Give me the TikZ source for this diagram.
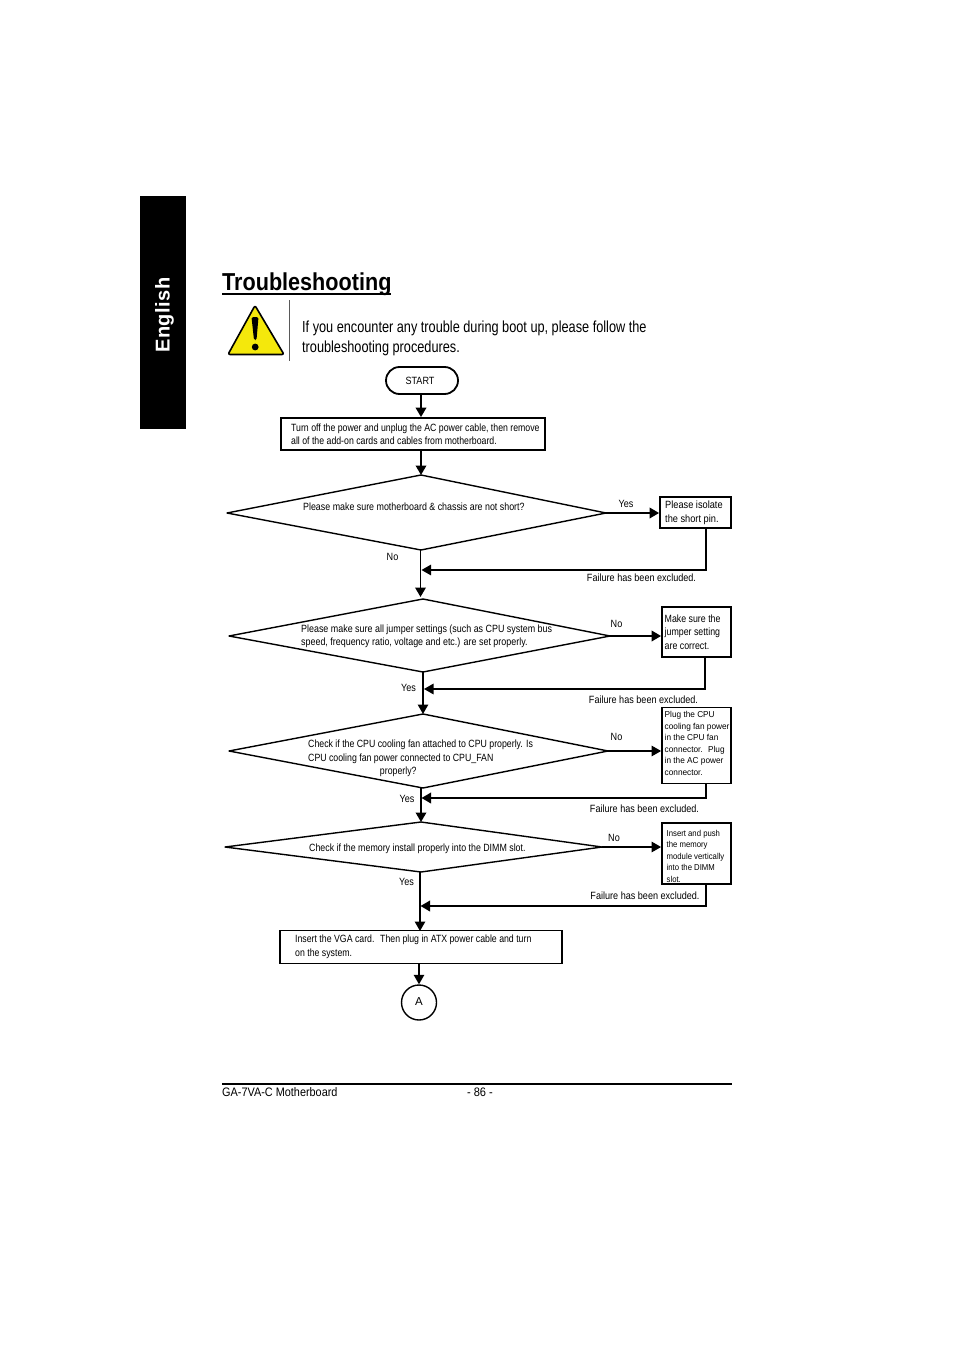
\documentclass[tikz,border=0pt]{standalone}
\usepackage{fontspec}
\setmainfont{Liberation Sans}
\usetikzlibrary{arrows.meta,shapes.misc}
\tikzset{
  thickln/.style={line width=1.9pt,draw=black},
  thinln/.style={line width=1.3pt,draw=black},
  arr/.style={-{Triangle[length=9.5pt,width=10.5pt]}},
  boxn/.style={draw=black,line width=1.8pt,inner sep=0pt,fill=white},
  dia/.style={draw=black,line width=1.4pt,line join=round},
  txt/.style={transform shape,anchor=west,align=left,inner sep=0pt,font=\fontsize{10.5}{13.5}\selectfont},
  lab/.style={transform shape,anchor=center,inner sep=0pt,font=\fontsize{10.5}{13}\selectfont},
  small/.style={transform shape,anchor=west,align=left,inner sep=0pt,font=\fontsize{8.6}{11.6}\selectfont},
}
\begin{document}
\begin{tikzpicture}[x=1pt,y=-1pt]
\useasboundingbox (0,0) rectangle (954,1351);
\fill[white] (0,0) rectangle (954,1351);
% side tab
\node[fill=black,minimum width=46pt,minimum height=233pt,inner sep=0pt] (tab) at (163,312.5) {};
\node[rotate=90,text=white,inner sep=0pt,font=\fontsize{20}{20}\selectfont\bfseries\addfontfeature{LetterSpace=2.5}] (eng) at (164.5,315) {English};
% title
\node[anchor=base west,inner sep=0pt,font=\fontsize{24.5}{26}\selectfont\bfseries,transform shape,xscale=.882] (title) at (222,290.5) {Troubleshooting};
\draw[line width=1.3pt] (222,294) -- (391,294);
% warning
\draw[draw=black,fill=yellow!95!black,line width=1.6pt,line join=round,rounded corners=2pt] (255,305.5) -- (284,354.5) -- (228,354.5) -- cycle;
\fill[black,rounded corners=1.5pt] (251.5,317) -- (258.5,317) -- (256.5,340) -- (254,340) -- cycle;
\fill[black] (255.2,347) circle (3.4pt);
\draw[line width=1pt,draw=black!65] (289,300) -- (289,361);
\node[txt,font=\fontsize{16}{19.5}\selectfont,xscale=.795] (intro) at (302,338.5) {If you encounter any trouble during boot up, please follow the\\troubleshooting procedures.};
% start
\node[draw=black,line width=1.8pt,rounded rectangle,minimum width=72pt,minimum height=27pt,inner sep=0pt] (start) at (422,380.5) {};
\node[lab,xscale=.865] (starttxt) at (420,380.5) {START};
% box 1
\node[boxn,minimum width=264pt,minimum height=32pt] (b1) at (413,434) {};
\node[txt,xscale=.833] (b1t) at (291,434.2) {Turn off the power and unplug the AC power cable, then remove\\all of the add-on cards and cables from motherboard.};
% diamonds
\coordinate (d1t) at (421,475); \coordinate (d1r) at (606,513); \coordinate (d1b) at (421,550); \coordinate (d1l) at (227,513);
\coordinate (d2t) at (423,599); \coordinate (d2r) at (610,636); \coordinate (d2b) at (423,672); \coordinate (d2l) at (229,636);
\coordinate (d3t) at (423,714); \coordinate (d3r) at (608,751); \coordinate (d3b) at (423,788); \coordinate (d3l) at (229,751);
\coordinate (d4t) at (421,822); \coordinate (d4r) at (602,847); \coordinate (d4b) at (421,872); \coordinate (d4l) at (225,847);
\draw[dia] (d1t) -- (d1r) -- (d1b) -- (d1l) -- cycle;
\draw[dia] (d2t) -- (d2r) -- (d2b) -- (d2l) -- cycle;
\draw[dia] (d3t) -- (d3r) -- (d3b) -- (d3l) -- cycle;
\draw[dia] (d4t) -- (d4r) -- (d4b) -- (d4l) -- cycle;
\node[txt,xscale=.845] (d1x) at (303,506.7) {Please make sure motherboard \& chassis are not short?};
\node[txt,xscale=.85] (d2x) at (301,636.2) {Please make sure all jumper settings (such as CPU system bus\\speed, frequency ratio, voltage and etc.) are set properly.};
\node[txt,xscale=.835] (d3x) at (308,758.5) {Check if the CPU cooling fan attached to CPU properly. Is\\CPU cooling fan power connected to CPU\_FAN\\\hspace*{86pt}properly?};
\node[txt,xscale=.841] (d4x) at (309,848.7) {Check if the memory install properly into the DIMM slot.};
% side boxes
\node[boxn,minimum width=71pt,minimum height=31pt] (s1) at (695.5,512.5) {};
\node[txt,xscale=.88] (s1x) at (665,512.7) {Please isolate\\the short pin.};
\node[boxn,minimum width=69pt,minimum height=50pt] (s2) at (696.5,632) {};
\node[txt,xscale=.84] (s2x) at (664.5,632) {Make sure the\\jumper setting\\are correct.};
\node[boxn,minimum width=69pt,minimum height=76pt] (s3) at (696.5,745.5) {};
\node[small,xscale=.96] (s3x) at (664.5,743.5) {Plug the CPU\\cooling fan power\\in the CPU fan\\connector. \ Plug\\in the AC power\\connector.};
\node[boxn,minimum width=69pt,minimum height=61pt] (s4) at (696.5,853.5) {};
\node[small,xscale=.9] (s4x) at (666.5,856.3) {Insert and push\\the memory\\module vertically\\into the DIMM\\slot.};
% bottom box
\node[boxn,line width=1.4pt,minimum width=282pt,minimum height=33pt] (b5) at (421,947) {};
\node[txt,xscale=.834] (b5x) at (295,947) {Insert the VGA card. \ Then plug in ATX power cable and turn\\on the system.};
\node[draw=black,line width=1.4pt,circle,minimum size=35pt,inner sep=0pt] (a) at (419,1002.5) {};
\node[lab,font=\fontsize{11.5}{13}\selectfont] (atxt) at (419,1002) {A};
% junction coordinates
\coordinate (r1) at (706,570); \coordinate (r2) at (705,689); \coordinate (r3) at (706,798); \coordinate (r4) at (706,906);
\coordinate (s1o) at (706,528); \coordinate (s2o) at (705,657); \coordinate (s3o) at (706,783); \coordinate (s4o) at (706,884);
\coordinate (j1) at (421.5,570); \coordinate (j2) at (424,689); \coordinate (j3) at (421.5,798); \coordinate (j4) at (420.5,906);
% connectors
\draw[thickln,arr] (start.south -| d1t) -- (d1t |- b1.north);
\draw[thickln,arr] (d1t |- b1.south) -- (d1t);
\draw[thickln,arr] (d1r) -- (s1.west |- d1r);
\draw[thinln,arr] (s1o) -- (r1) -- (j1);
\draw[thickln,arr] (420.5,550) -- (420.5,597);
\draw[thickln,arr] (d2r) -- (s2.west |- d2r);
\draw[thinln,arr] (s2o) -- (r2) -- (j2);
\draw[thinln,arr] (d2b) -- (d3t);
\draw[thinln,arr] (d3r) -- (s3.west |- d3r);
\draw[thickln,arr] (s3o) -- (r3) -- (j3);
\draw[thickln,arr] (421,788) -- (d4t);
\draw[thinln,arr] (d4r) -- (s4.west |- d4r);
\draw[thickln,arr] (s4o) -- (r4) -- (j4);
\draw[thinln,arr] (420,872) -- (420,931);
\draw[thinln,arr] (419,963.5) -- (a.north);
% labels
\tikzset{every node/.append style={}}
\node[lab,xscale=.865] (l1) at (626,503.5) {Yes};
\node[lab,xscale=.865] (l2) at (392.5,556.5) {No};
\node[lab,xscale=.865] (l3) at (616.5,623.5) {No};
\node[lab,xscale=.865] (l4) at (408.5,687.5) {Yes};
\node[lab,xscale=.865] (l5) at (616.5,736.5) {No};
\node[lab,xscale=.865] (l6) at (407,798.5) {Yes};
\node[lab,xscale=.865] (l7) at (614,837.5) {No};
\node[lab,xscale=.865] (l8) at (406.5,881.5) {Yes};
\node[lab,xscale=.865] (f1) at (641.5,577.5) {Failure has been excluded.};
\node[lab,xscale=.865] (f2) at (643.5,699.5) {Failure has been excluded.};
\node[lab,xscale=.865] (f3) at (644.5,808.5) {Failure has been excluded.};
\node[lab,xscale=.865] (f4) at (645,895.5) {Failure has been excluded.};
% footer
\draw[line width=1.7pt] (222,1084) -- (732,1084);
\node[anchor=base west,inner sep=0pt,transform shape,xscale=.885,font=\fontsize{12.3}{14}\selectfont] (fl) at (222,1096) {GA-7VA-C Motherboard};
\node[anchor=base,inner sep=0pt,font=\fontsize{12.3}{14}\selectfont,transform shape,xscale=.9] (fc) at (480,1096) {- 86 -};
\end{tikzpicture}
\end{document}
